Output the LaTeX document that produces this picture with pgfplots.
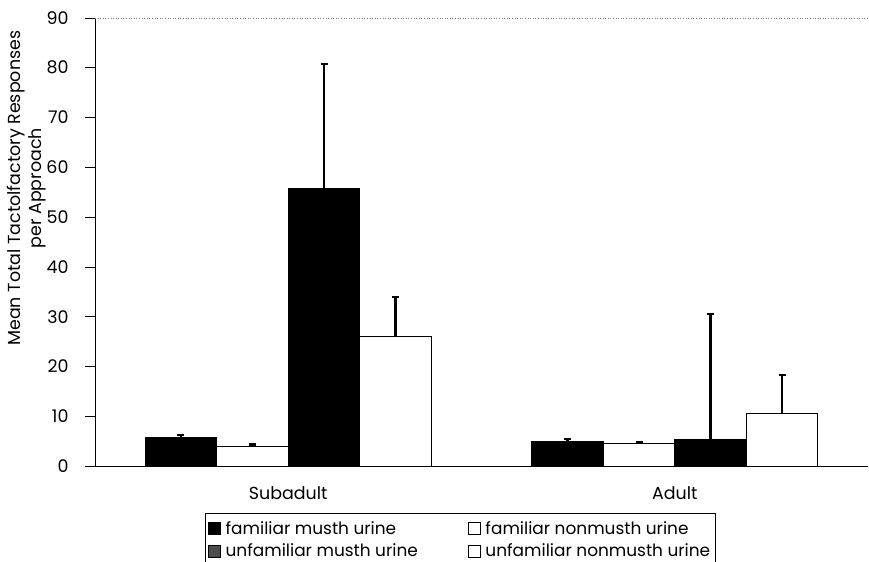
\documentclass[border=0pt]{standalone}
\usepackage{pgfplots}
\pgfplotsset{compat=1.18}
\usepackage{fontspec}
\setmainfont{Poppins}
\begin{document}
\begin{tikzpicture}
\begin{axis}[
  scale only axis,
  width=773bp, height=448bp,
  ybar=0pt, bar width=0.185,
  xmin=-0.5, xmax=1.5,
  ymin=0, ymax=90,
  ytick={0,10,...,90},
  xtick={0,1}, xticklabels={Subadult, Adult},
  extra x ticks={0.5},
  extra x tick labels={},
  extra x tick style={major tick length=6bp, tick style={black,line width=0.6pt}},
  x tick style={draw=none},
  y tick style={black, line width=0.6pt},
  major tick length=10bp,
  tick align=outside,
  axis x line*=bottom, axis y line*=left,
  axis line style={black, line width=0.8pt},
  separate axis lines,
  /pgf/number format/assume math mode=true,
  tick label style={font=\fontsize{17.5}{20}\selectfont},
  yticklabel style={xshift=-13bp},
  xticklabel style={yshift=-7bp},
  ylabel={Mean Total Tactolfactory Responses\\per Approach},
  ylabel style={at={(axis description cs:-0.089,0.62)}, anchor=center,
    align=center, font=\fontsize{17.5}{21}\selectfont},
  clip=false,
  legend columns=2,
  legend cell align=left,
  legend style={at={(0.142,-0.105)}, anchor=north west,
    draw=black, line width=0.6pt,
    font=\fontsize{17}{19}\selectfont,
    row sep=4bp, inner xsep=3bp, inner ysep=6bp,
    /tikz/every even column/.append style={column sep=48bp}},
  legend image code/.code={\draw[#1,line width=0.6pt] (0bp,-6bp) rectangle (12bp,6bp); \path (15bp,0bp);},
  error bars/y dir=plus, error bars/y explicit,
  error bars/error bar style={black, line width=2.2pt},
  error bars/error mark options={black, rotate=90, line width=2.2pt, mark size=3.5bp},
]
\addplot[fill=black, draw=black, line width=0.6pt] coordinates {(0,5.8) +- (0,0.5) (1,5.0) +- (0,0.5)};
\addplot[fill=white, draw=black, line width=0.6pt] coordinates {(0,4.0) +- (0,0.3) (1,4.6) +- (0,0.2)};
\addplot[fill=black, draw=black, line width=0.6pt, legend image post style={fill=black!70}] coordinates {(0,55.7) +- (0,25.1) (1,5.4) +- (0,25.2)};
\addplot[fill=white, draw=black, line width=0.6pt] coordinates {(0,26.0) +- (0,7.9) (1,10.5) +- (0,7.8)};
\legend{familiar musth urine, familiar nonmusth urine, unfamiliar musth urine, unfamiliar nonmusth urine}
\draw[gray, dotted, line width=0.6pt] (rel axis cs:0,1) -- (rel axis cs:1,1);
\coordinate (bl) at (rel axis cs:0,0);
\coordinate (tr) at (rel axis cs:1,1);
\end{axis}
\pgfresetboundingbox
\path ([shift={(-95bp,-96bp)}]bl) rectangle ([shift={(1bp,18bp)}]tr);
\end{tikzpicture}
\end{document}
